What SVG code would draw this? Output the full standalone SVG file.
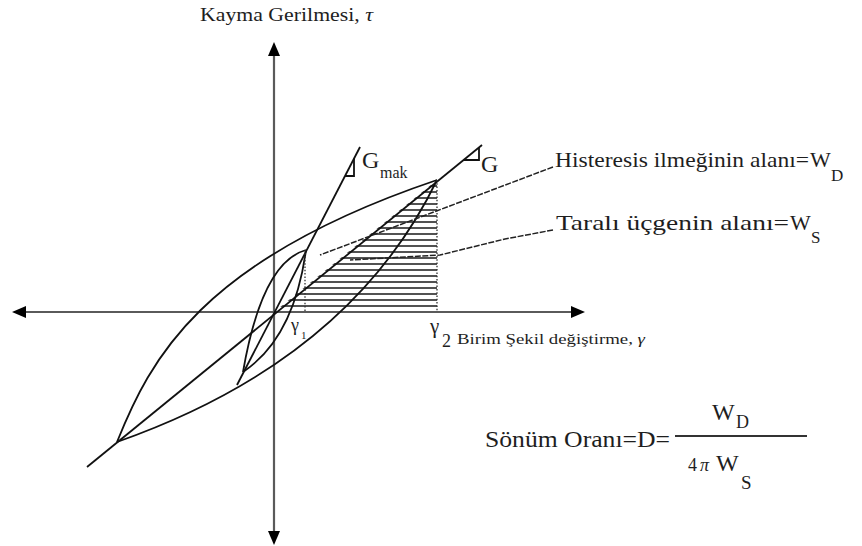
<svg xmlns="http://www.w3.org/2000/svg" width="862" height="546" viewBox="0 0 862 546">
  <style>
    .ax { stroke: #5a5a5a; stroke-width: 2.2; fill: none; }
    .cv { stroke: #111; stroke-width: 1.8; fill: none; }
    .dot { stroke: #333; stroke-width: 1.3; stroke-dasharray: 1.5 1.8; fill: none; }
    .ld { stroke: #222; stroke-width: 1.5; stroke-dasharray: 6 1.5; fill: none; }
    text { fill: #1e1e1e; font-family: 'Liberation Serif', 'DejaVu Serif', serif; }
    .hatch { stroke: #1a1a1a; stroke-width: 1.7; }
  </style>
  <defs>
    <marker id="arr" viewBox="0 0 14 12" markerWidth="14" markerHeight="12" refX="2" refY="6" orient="auto-start-reverse" markerUnits="userSpaceOnUse">
      <path d="M0,0 L14,6 L0,12 z" fill="#000"/>
    </marker>
    <clipPath id="tri">
      <polygon points="274,312 437,180 437,309"/>
    </clipPath>
  </defs>
  <rect width="862" height="546" fill="#fff"/>

  <g id="hatching" clip-path="url(#tri)">
    <path class="hatch" d="M270,186 H438 M270,192 H438 M270,198 H438 M270,204 H438 M270,210 H438 M270,216 H438 M270,222 H438 M270,228 H438 M270,234 H438 M270,240 H438 M270,246 H438 M270,252 H438 M270,258 H438 M270,264 H438 M270,270 H438 M270,276 H438 M270,282 H438 M270,288 H438 M270,294 H438 M270,300 H438 M270,306 H438"/>
  </g>

  <g id="axes">
    <line class="ax" x1="24" y1="312" x2="573" y2="312" marker-start="url(#arr)" marker-end="url(#arr)"/>
    <line class="ax" x1="274" y1="54" x2="274" y2="533" marker-start="url(#arr)" marker-end="url(#arr)"/>
  </g>

  <g id="big-loop">
    <path class="cv" d="M117,442 C150,360 200,260 437,180"/>
    <path class="cv" d="M117,442 Q350,360 437,180"/>
    <line class="cv" x1="87" y1="467" x2="482" y2="145"/>
    <path class="cv" d="M464,160 H479 V148"/>
    <line class="dot" x1="437" y1="180" x2="437" y2="312"/>
  </g>

  <g id="small-loop">
    <path class="cv" d="M243,372 Q262,262 306,250"/>
    <path class="cv" d="M243,372 Q294,338 306,250"/>
    <line class="cv" x1="237" y1="385" x2="360" y2="147"/>
    <path class="cv" d="M345,176 H354 V158.6"/>
    <line class="dot" x1="305" y1="250" x2="305" y2="312"/>
  </g>

  <g id="leaders">
    <line class="ld" x1="553" y1="167" x2="320" y2="255"/>
    <polyline class="ld" points="553,230 505,239 440,255 350,260"/>
  </g>

  <g id="labels">
    <text x="200" y="21" font-size="19" textLength="173" lengthAdjust="spacingAndGlyphs">Kayma Gerilmesi, <tspan font-style="italic">τ</tspan></text>
    <text x="362" y="168" font-size="24">G</text>
    <text x="380" y="178" font-size="16">mak</text>
    <text x="481" y="172" font-size="24">G</text>
    <text x="555" y="167" font-size="22" textLength="254" lengthAdjust="spacingAndGlyphs">Histeresis ilmeğinin alanı=</text>
    <text x="810" y="167" font-size="22">W</text>
    <text x="831" y="181" font-size="17">D</text>
    <text x="556" y="230" font-size="22" textLength="233" lengthAdjust="spacingAndGlyphs">Taralı üçgenin alanı=</text>
    <text x="790" y="230" font-size="22">W</text>
    <text x="811" y="243" font-size="17">S</text>
    <text x="291" y="331" font-size="18">γ</text>
    <text x="301" y="339" font-size="11">1</text>
    <text x="430" y="333" font-size="21">γ</text>
    <text x="442" y="347" font-size="18">2</text>
    <text x="457" y="344" font-size="15" textLength="188" lengthAdjust="spacingAndGlyphs">Birim Şekil değiştirme, <tspan font-style="italic">γ</tspan></text>
  </g>

  <g id="formula">
    <text x="485" y="447" font-size="24" textLength="185" lengthAdjust="spacingAndGlyphs">Sönüm Oranı=D=</text>
    <line x1="675" y1="436" x2="807" y2="436" stroke="#333" stroke-width="2"/>
    <text x="712" y="420" font-size="24">W</text>
    <text x="736" y="428" font-size="18">D</text>
    <text x="688" y="471" font-size="18">4</text>
    <text x="700" y="471" font-size="18" font-style="italic">π</text>
    <text x="716" y="471" font-size="24">W</text>
    <text x="741" y="489" font-size="19">S</text>
  </g>
</svg>
